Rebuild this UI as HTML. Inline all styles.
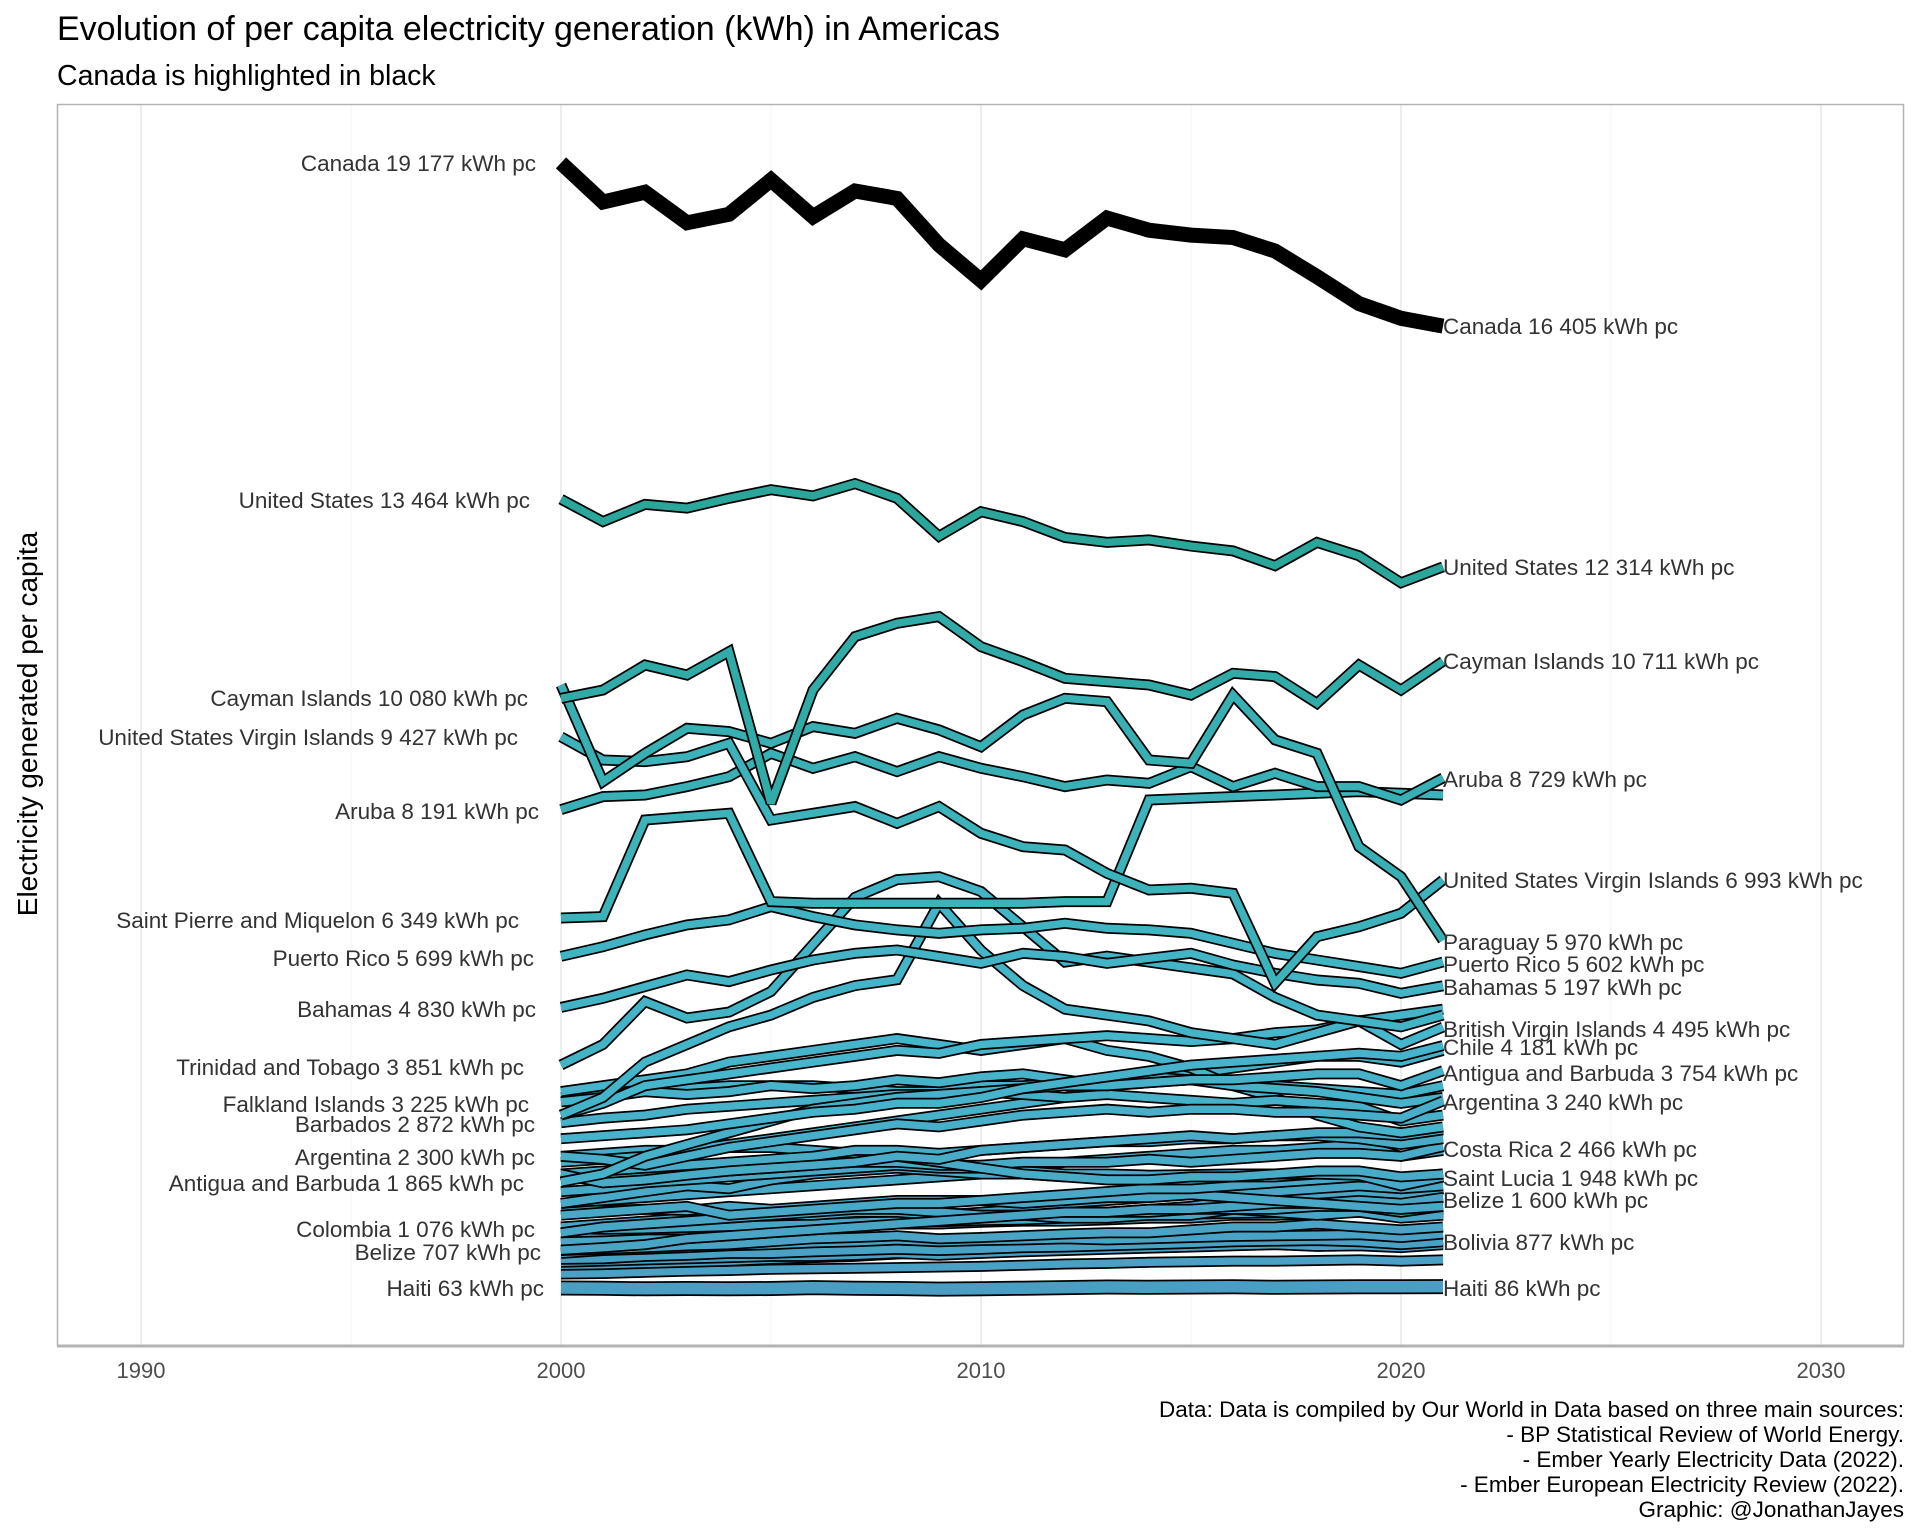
<!DOCTYPE html>
<html><head><meta charset="utf-8">
<style>
html,body{margin:0;padding:0;background:#fff;}
svg{display:block;font-family:"Liberation Sans",sans-serif;}
</style></head>
<body>
<svg id="chart" width="1920" height="1536" viewBox="0 0 1920 1536" xmlns="http://www.w3.org/2000/svg">
<text x="57" y="40" font-size="34" fill="#000">Evolution of per capita electricity generation (kWh) in Americas</text>
<text x="57" y="85" font-size="28.5" fill="#000">Canada is highlighted in black</text>
<g id="grid"></g>
<g id="lines"></g>
<g id="labels"></g>
<rect x="57.5" y="104.5" width="1846" height="1241" fill="none" stroke="#b3b3b3" stroke-width="1.5"/>
<line x1="57" y1="1346" x2="1904" y2="1346" stroke="#b3b3b3" stroke-width="3"/>
<g id="xticks"></g>
<text transform="translate(37,724) rotate(-90)" text-anchor="middle" font-size="28" fill="#000">Electricity generated per capita</text>
<g font-size="22.5" text-anchor="end" fill="#000">
<text x="1904" y="1417">Data: Data is compiled by Our World in Data based on three main sources:</text>
<text x="1904" y="1442">- BP Statistical Review of World Energy.</text>
<text x="1904" y="1467">- Ember Yearly Electricity Data (2022).</text>
<text x="1904" y="1492">- Ember European Electricity Review (2022).</text>
<text x="1904" y="1517">Graphic: @JonathanJayes</text>
</g>
</svg>
<script>
const years=[2000,2001,2002,2003,2004,2005,2006,2007,2008,2009,2010,2011,2012,2013,2014,2015,2016,2017,2018,2019,2020,2021];
const xTicks=[1990,2000,2010,2020,2030];
const xMinor=[1995,2005,2015,2025];
const canada=[19177,18513,18680,18160,18305,18887,18263,18700,18575,17785,17182,17889,17702,18242,18035,17951,17910,17681,17244,16787,16537,16405];
const unitedStates=[13464,13084,13375,13313,13479,13625,13521,13729,13479,12835,13251,13084,12814,12731,12772,12668,12585,12335,12731,12502,12044,12314];
const caymanIslands=[10080,10223,10648,10478,10874,8298,10223,11129,11356,11469,10959,10704,10421,10365,10308,10138,10506,10450,9996,10648,10223,10711];
const paraguayLike=[10308,8666,9147,9572,9515,9317,9600,9487,9742,9544,9260,9798,10081,10025,9034,8977,10138,9374,9147,7561,7052,5970];
const usVirginIslands=[9427,9034,9006,9090,9317,8014,8128,8241,7958,8241,7788,7561,7505,7108,6825,6853,6769,5240,6032,6202,6429,6993];
const aruba=[8191,8411,8439,8581,8750,9147,8892,9090,8836,9090,8892,8750,8581,8694,8637,8921,8581,8807,8581,8581,8354,8729];
const saintPierre=[6349,6372,8014,8071,8128,6627,6599,6599,6599,6599,6599,6599,6627,6627,8354,8383,8411,8439,8467,8496,8467,8439];
const puertoRico=[5699,5862,6061,6231,6316,6542,6372,6231,6146,6089,6146,6174,6259,6174,6146,6089,5919,5749,5636,5523,5410,5602];
const bahamas=[4830,4985,5183,5381,5268,5466,5636,5749,5806,5693,5579,5749,5693,5579,5664,5749,5551,5410,5296,5240,5070,5197];
const trinidad=[3851,4200,4930,4650,4750,5100,5900,6700,7000,7050,6800,6200,5600,5700,5600,5500,5400,5000,4700,4600,4500,4700];
const saintKitts=[3000,3300,3900,4200,4500,4700,5000,5200,5300,6600,5800,5200,4800,4700,4600,4400,4300,4200,4400,4600,4700,4800];
const britishVirgin=[3000,3200,3500,3600,3700,3800,3900,4000,4100,4050,4200,4250,4300,4350,4300,4250,4300,4400,4450,4600,4200,4495];
const chile=[2600,2650,2700,2750,2850,2950,3050,3100,3200,3200,3300,3450,3550,3650,3750,3850,3900,3950,4000,4050,4000,4181];
const antigua=[1865,2000,2300,2500,2700,2900,3100,3200,3300,3350,3400,3450,3500,3500,3550,3600,3600,3650,3700,3700,3500,3754];
const argentina=[2300,2250,2150,2300,2450,2550,2650,2750,2850,2800,2900,3000,3050,3100,3050,3100,3100,3050,3050,3000,2950,3240];
const falkland=[3225,3300,3400,3350,3400,3500,3450,3500,3600,3550,3650,3700,3600,3500,3550,3600,3500,3450,3400,3300,3200,3300];
const barbados=[2872,2950,3000,3100,3150,3200,3250,3300,3350,3350,3400,3350,3300,3350,3300,3250,3200,3250,3200,3150,2900,3000];
const venezuela=[3400,3500,3600,3700,3900,4000,4100,4200,4300,4200,4100,4200,4300,4100,4000,3800,3500,3300,3000,2800,2700,2800];
const suriname=[3300,3350,3400,3450,3500,3500,3500,3450,3400,3400,3500,3500,3550,3600,3650,3600,3550,3500,3450,3400,3350,3500];
const uruguay=[2200,2250,2300,2400,2500,2600,2700,2800,2900,3000,3100,3200,3300,3500,3600,3700,3800,3900,4000,4000,3900,4100];
const brazil=[2000,1850,1900,1980,2050,2100,2150,2200,2300,2250,2400,2450,2500,2550,2600,2650,2600,2650,2700,2700,2650,2750];
const mexico=[2000,2050,2100,2150,2200,2250,2300,2400,2400,2350,2400,2450,2500,2550,2550,2600,2600,2650,2650,2600,2500,2600];
const jamaica=[2300,2350,2400,2400,2450,2450,2400,2350,2300,2200,2100,2000,1950,1900,1900,1950,1950,2000,2050,2050,1950,2000];
const costaRica=[1900,1950,2000,2000,2050,2100,2150,2200,2200,2150,2150,2200,2200,2200,2250,2200,2250,2300,2350,2350,2300,2466];
const saintLucia=[1700,1750,1850,1900,1950,2000,2050,2100,2150,2100,2100,2050,2000,2000,1980,1990,2000,2000,2000,1980,1800,1948];
const grenada=[1500,1600,1700,1800,1750,1900,2000,2050,2100,2050,2000,2000,1950,1950,1900,1900,1950,1950,2000,2000,1900,2000];
const panama=[1500,1550,1600,1650,1700,1750,1800,1850,1900,1950,2000,2100,2200,2250,2300,2350,2400,2400,2450,2500,2300,2400];
const dominicanRep=[1300,1350,1400,1450,1300,1350,1400,1450,1500,1500,1550,1600,1650,1700,1750,1750,1800,1850,1900,1950,1900,2000];
const cuba=[1400,1380,1400,1380,1450,1400,1450,1500,1550,1550,1550,1500,1550,1600,1600,1650,1600,1550,1500,1450,1400,1450];
const belize=[707,750,800,900,950,1000,1050,1100,1150,1200,1250,1300,1350,1350,1400,1400,1450,1500,1500,1550,1500,1600];
const stVincent=[1000,1100,1150,1200,1250,1300,1350,1400,1400,1350,1300,1300,1350,1350,1350,1400,1400,1400,1450,1450,1350,1450];
const dominica=[1100,1150,1200,1250,1250,1300,1300,1350,1350,1300,1300,1300,1250,1250,1300,1300,1400,1350,1300,1350,1250,1300];
const colombia=[1076,1060,1070,1090,1110,1130,1150,1180,1200,1190,1210,1220,1250,1280,1300,1320,1330,1340,1350,1370,1330,1400];
const guyana=[1000,1020,1050,1050,1080,1100,1100,1120,1150,1150,1180,1200,1200,1220,1250,1250,1300,1300,1320,1350,1300,1350];
const ecuador=[850,900,950,1000,1050,1100,1150,1200,1250,1300,1350,1400,1500,1550,1600,1650,1700,1700,1750,1800,1750,1800];
const peru=[800,820,850,900,950,1000,1050,1100,1150,1150,1200,1250,1300,1350,1400,1450,1550,1600,1650,1700,1600,1750];
const honduras=[700,720,750,780,800,850,900,920,950,900,920,950,980,1000,1000,1050,1100,1100,1150,1100,1050,1100];
const elSalvador=[650,700,720,750,780,800,830,850,880,850,870,880,900,880,900,920,940,950,960,970,920,980];
const guatemala=[550,560,600,620,650,650,680,700,720,700,720,750,760,780,800,820,850,860,870,850,800,850];
const nicaragua=[500,520,540,560,580,600,600,620,650,620,650,680,700,720,740,760,780,800,770,780,750,800];
const bolivia=[450,460,480,500,520,550,580,600,640,660,690,710,740,760,790,800,820,830,850,860,820,877];
const haitiLike=[300,310,330,350,360,380,390,400,410,420,430,450,470,480,500,510,520,520,530,540,520,540];
const haiti=[63,58,50,55,50,55,70,60,55,45,50,60,70,80,75,80,85,75,80,85,85,86];
const seriesNames=['Canada','United States','Cayman Islands','Paraguay','United States Virgin Islands','Aruba','Saint Pierre and Miquelon','Puerto Rico','Bahamas','Trinidad and Tobago','Saint Kitts and Nevis','British Virgin Islands','Chile','Antigua and Barbuda','Argentina','Falkland Islands','Barbados','Venezuela','Suriname','Uruguay','Brazil','Mexico','Jamaica','Costa Rica','Saint Lucia','Grenada','Panama','Dominican Republic','Cuba','Belize','Saint Vincent','Dominica','Colombia','Guyana','Ecuador','Peru','Honduras','El Salvador','Guatemala','Nicaragua','Bolivia','Montserrat','Haiti'];
const seriesValues=[canada,unitedStates,caymanIslands,paraguayLike,usVirginIslands,aruba,saintPierre,puertoRico,bahamas,trinidad,saintKitts,britishVirgin,chile,antigua,argentina,falkland,barbados,venezuela,suriname,uruguay,brazil,mexico,jamaica,costaRica,saintLucia,grenada,panama,dominicanRep,cuba,belize,stVincent,dominica,colombia,guyana,ecuador,peru,honduras,elSalvador,guatemala,nicaragua,bolivia,haitiLike,haiti];
const leftLabels=[['Canada 19 177 kWh pc',canada],['United States 13 464 kWh pc',unitedStates],['Cayman Islands 10 080 kWh pc',caymanIslands],['United States Virgin Islands 9 427 kWh pc',usVirginIslands],['Aruba 8 191 kWh pc',aruba],['Saint Pierre and Miquelon 6 349 kWh pc',saintPierre],['Puerto Rico 5 699 kWh pc',puertoRico],['Bahamas 4 830 kWh pc',bahamas],['Trinidad and Tobago 3 851 kWh pc',trinidad],['Falkland Islands 3 225 kWh pc',falkland],['Barbados 2 872 kWh pc',barbados],['Argentina 2 300 kWh pc',argentina],['Antigua and Barbuda 1 865 kWh pc',antigua],['Colombia 1 076 kWh pc',colombia],['Belize 707 kWh pc',belize],['Haiti 63 kWh pc',haiti]];
const rightLabels=[['Canada 16 405 kWh pc',canada],['United States 12 314 kWh pc',unitedStates],['Cayman Islands 10 711 kWh pc',caymanIslands],['Aruba 8 729 kWh pc',aruba],['United States Virgin Islands 6 993 kWh pc',usVirginIslands],['Paraguay 5 970 kWh pc',paraguayLike],['Puerto Rico 5 602 kWh pc',puertoRico],['Bahamas 5 197 kWh pc',bahamas],['British Virgin Islands 4 495 kWh pc',britishVirgin],['Chile 4 181 kWh pc',chile],['Antigua and Barbuda 3 754 kWh pc',antigua],['Argentina 3 240 kWh pc',argentina],['Costa Rica 2 466 kWh pc',costaRica],['Saint Lucia 1 948 kWh pc',saintLucia],['Belize 1 600 kWh pc',belize],['Bolivia 877 kWh pc',bolivia],['Haiti 86 kWh pc',haiti]];

const NS='http://www.w3.org/2000/svg';
function xs(yr){return 561+(yr-2000)*42;}
function ys(v){return 1291.7-v*0.05886;}
function mk(tag,attrs,parent){const e=document.createElementNS(NS,tag);for(const k in attrs)e.setAttribute(k,attrs[k]);parent.appendChild(e);return e;}
function lerp(a,b,t){return a.map((c,i)=>Math.round(c+(b[i]-c)*t));}
function colorFor(v){
  const low=[74,158,196],mid=[70,182,204],hi=[56,176,180],top=[42,166,154];
  let c;
  if(v<4000)c=lerp(low,mid,v/4000);
  else if(v<9000)c=lerp(mid,hi,(v-4000)/5000);
  else c=lerp(hi,top,Math.min(1,(v-9000)/3000));
  return 'rgb('+c.join(',')+')';
}
const grid=document.getElementById('grid');
xMinor.forEach(t=>{const l=mk('line',{x1:xs(t),x2:xs(t),y1:105,y2:1345,stroke:'#f3f3f3','stroke-width':1},grid);

});
xTicks.forEach(t=>{const l=mk('line',{x1:xs(t),x2:xs(t),y1:105,y2:1345,stroke:'#e3e3e3','stroke-width':1.3},grid);

});
const xt=document.getElementById('xticks');
xTicks.forEach(t=>{const e=mk('text',{x:xs(t),y:1378,'text-anchor':'middle','font-size':22,fill:'#4d4d4d'},xt);e.textContent=t;

});

const lines=document.getElementById('lines');
function pts(vals){return vals.map((v,i)=>xs(years[i]).toFixed(1)+','+ys(v).toFixed(1)).join(' ');}
for(let s=seriesValues.length-1;s>=1;s--){
  const vals=seriesValues[s];
  const mean=vals.reduce((a,b)=>a+b,0)/vals.length;
  const g=mk('g',{},lines);
  
  
  const w=seriesNames[s]==='Haiti'?15:11;
  mk('polyline',{points:pts(vals),fill:'none',stroke:'#000','stroke-width':w,'stroke-linejoin':'miter','stroke-miterlimit':3},g);
  mk('polyline',{points:pts(vals),fill:'none',stroke:colorFor(mean),'stroke-width':w-3.5,'stroke-linejoin':'miter','stroke-miterlimit':3},g);
}
const cg=mk('g',{},lines);


mk('polyline',{points:pts(canada),fill:'none',stroke:'#000','stroke-width':15,'stroke-linejoin':'miter','stroke-miterlimit':3},cg);

const lab=document.getElementById('labels');
const leftY=[163,500,698,737,811,920,958,1009,1067,1104,1124,1157,1183,1229,1252,1288];
const leftRight=[536,530,528,518,539,519,534,536,524,529,535,535,524,535,541,544];
leftLabels.forEach((l,i)=>{const e=mk('text',{x:leftRight[i],y:leftY[i]+8,'text-anchor':'end','font-size':22.5,fill:'#333'},lab);e.textContent=l[0];

});
const rightY=[326,567,661,779,880,942,964,987,1029,1047,1073,1102,1149,1178,1200,1242,1288];
rightLabels.forEach((l,i)=>{const e=mk('text',{x:1443,y:rightY[i]+8,'font-size':22.5,fill:'#333'},lab);e.textContent=l[0];

});
</script>
</body></html>
